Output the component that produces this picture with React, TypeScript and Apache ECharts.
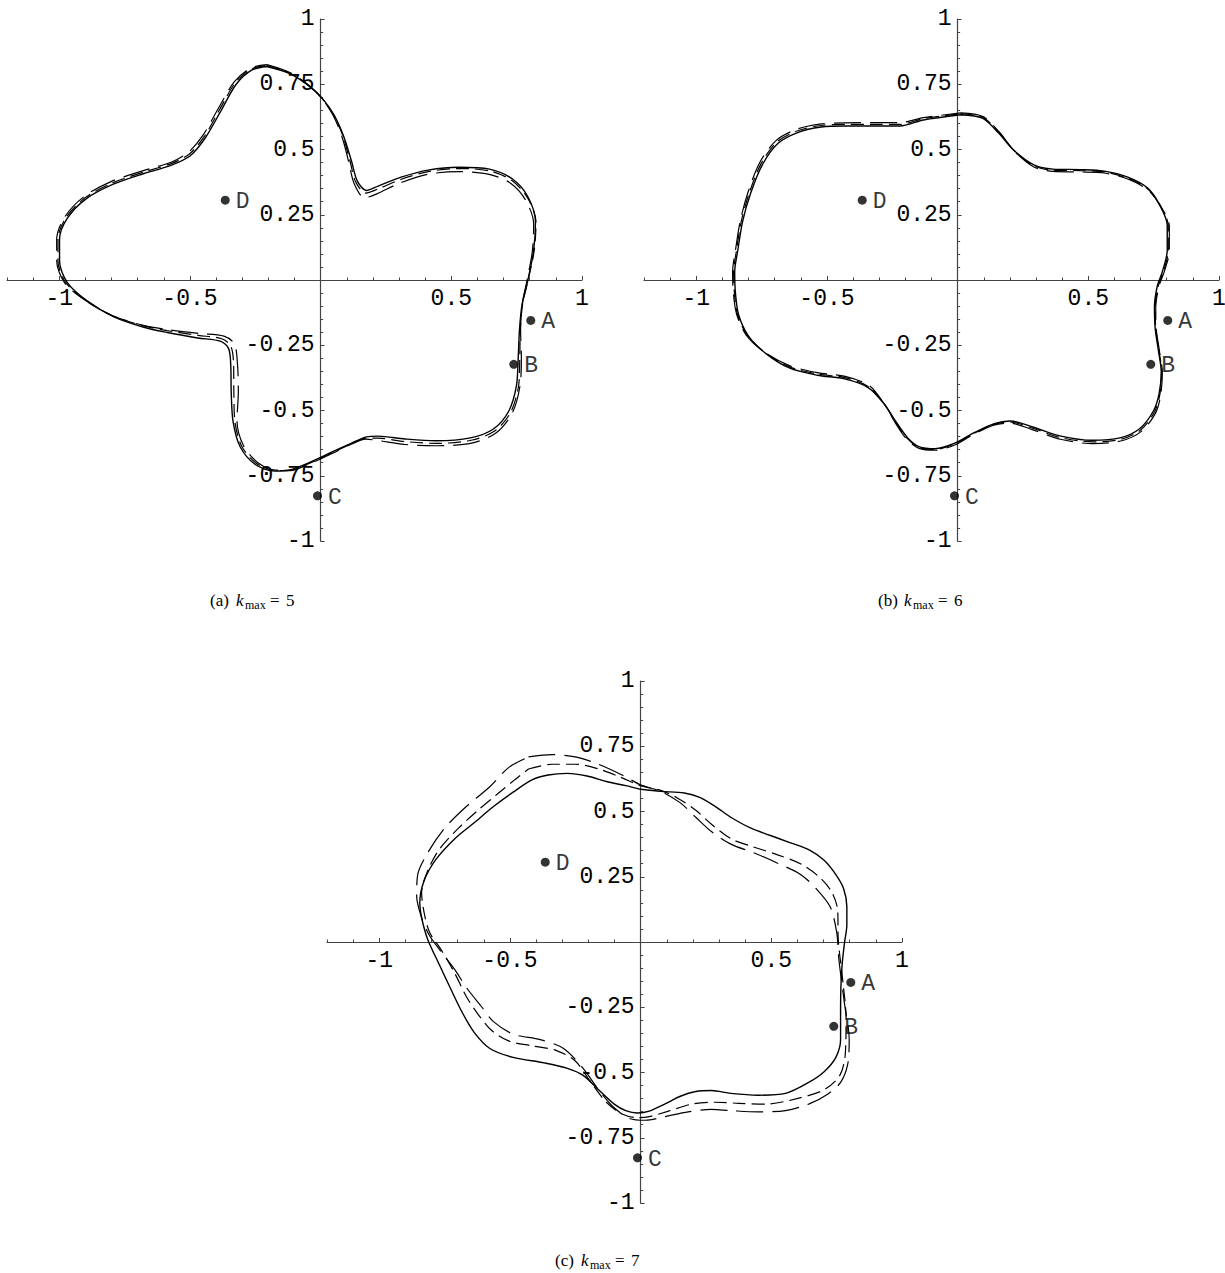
import React, { useEffect, useRef } from "react";
import * as echarts from "echarts";

// ---- axis ticks ----
const xMajorTicks = [-1, -0.5, 0.5, 1];
const xMinorTicks = [
  -1.2, -1.1, -1, -0.9, -0.8, -0.7, -0.6, -0.5, -0.4, -0.3, -0.2, -0.1,
  0.1, 0.2, 0.3, 0.4, 0.5, 0.6, 0.7, 0.8, 0.9, 1,
];
const yMajorTicks = [-1, -0.75, -0.5, -0.25, 0.25, 0.5, 0.75, 1];
const yMinorTicks = [
  -1, -0.95, -0.9, -0.85, -0.8, -0.75, -0.7, -0.65, -0.6, -0.55, -0.5, -0.45,
  -0.4, -0.35, -0.3, -0.25, -0.2, -0.15, -0.1, -0.05, 0.05, 0.1, 0.15, 0.2,
  0.25, 0.3, 0.35, 0.4, 0.45, 0.5, 0.55, 0.6, 0.65, 0.7, 0.75, 0.8, 0.85, 0.9,
  0.95, 1,
];
const X_MIN = -1.2;
const X_MAX = 1;
const Y_MIN = -1;
const Y_MAX = 1;

// ---- reference points ----
const pointNames = ["A", "B", "C", "D"];
const pointX = [0.804, 0.739, -0.012, -0.365];
const pointY = [-0.155, -0.323, -0.827, 0.306];

// ---- captions ----
const panelTags = ["(a)", "(b)", "(c)"];
const kmaxValues = ["5", "6", "7"];

// ---- reconstructed boundaries, k_max = 5 ----
const k5Solid = [
  [-0.206, 0.818], [-0.118, 0.791], [-0.044, 0.743], [0.007, 0.695], [0.051, 0.633],
  [0.088, 0.551], [0.118, 0.456], [0.14, 0.38], [0.176, 0.343], [0.22, 0.36],
  [0.308, 0.394], [0.411, 0.421], [0.529, 0.432], [0.646, 0.425], [0.734, 0.387],
  [0.793, 0.319], [0.822, 0.223], [0.815, 0.114], [0.793, 0.0], [0.771, -0.092],
  [0.761, -0.187], [0.756, -0.297], [0.749, -0.406], [0.72, -0.502], [0.661, -0.571],
  [0.573, -0.605], [0.441, -0.616], [0.323, -0.609], [0.22, -0.598], [0.176, -0.601],
  [0.118, -0.625], [0.044, -0.659], [-0.044, -0.7], [-0.118, -0.728], [-0.176, -0.732],
  [-0.25, -0.707], [-0.308, -0.639], [-0.335, -0.543], [-0.342, -0.434], [-0.344, -0.324],
  [-0.352, -0.263], [-0.382, -0.235], [-0.47, -0.222], [-0.587, -0.201], [-0.676, -0.181],
  [-0.793, -0.14], [-0.896, -0.078], [-0.969, -0.01], [-0.999, 0.073], [-0.999, 0.155],
  [-0.969, 0.237], [-0.896, 0.312], [-0.793, 0.367], [-0.676, 0.408], [-0.573, 0.439],
  [-0.499, 0.476], [-0.441, 0.545], [-0.382, 0.647], [-0.323, 0.75], [-0.264, 0.804],
];
const k5Dash = [
  [-0.206, 0.822], [-0.118, 0.793], [-0.044, 0.744], [0.006, 0.695], [0.05, 0.632],
  [0.086, 0.55], [0.113, 0.453], [0.134, 0.376], [0.172, 0.333], [0.218, 0.348],
  [0.306, 0.385], [0.411, 0.415], [0.529, 0.427], [0.646, 0.418], [0.732, 0.381],
  [0.792, 0.314], [0.824, 0.22], [0.817, 0.112], [0.794, 0.0], [0.773, -0.092],
  [0.764, -0.189], [0.762, -0.298], [0.757, -0.408], [0.727, -0.507], [0.667, -0.578],
  [0.576, -0.614], [0.44, -0.626], [0.322, -0.619], [0.219, -0.606], [0.174, -0.606],
  [0.116, -0.628], [0.044, -0.662], [-0.044, -0.703], [-0.117, -0.729], [-0.174, -0.728],
  [-0.245, -0.703], [-0.302, -0.637], [-0.328, -0.542], [-0.332, -0.433], [-0.333, -0.325],
  [-0.343, -0.255], [-0.376, -0.226], [-0.468, -0.212], [-0.587, -0.194], [-0.676, -0.176],
  [-0.797, -0.137], [-0.901, -0.077], [-0.975, -0.01], [-1.005, 0.073], [-1.005, 0.155],
  [-0.975, 0.238], [-0.9, 0.316], [-0.796, 0.372], [-0.676, 0.414], [-0.572, 0.446],
  [-0.502, 0.483], [-0.445, 0.55], [-0.386, 0.654], [-0.327, 0.755], [-0.266, 0.808],
];
const k5LongDash = [
  [-0.206, 0.825], [-0.118, 0.795], [-0.044, 0.745], [0.005, 0.695], [0.048, 0.63],
  [0.082, 0.548], [0.108, 0.45], [0.128, 0.37], [0.168, 0.315], [0.215, 0.33],
  [0.3, 0.37], [0.41, 0.405], [0.53, 0.415], [0.645, 0.405], [0.728, 0.37],
  [0.785, 0.305], [0.815, 0.215], [0.81, 0.11], [0.79, 0.0], [0.772, -0.09],
  [0.765, -0.19], [0.768, -0.3], [0.762, -0.41], [0.733, -0.51], [0.672, -0.585],
  [0.578, -0.625], [0.44, -0.635], [0.32, -0.63], [0.22, -0.615], [0.172, -0.61],
  [0.115, -0.63], [0.044, -0.665], [-0.044, -0.705], [-0.117, -0.73], [-0.172, -0.73],
  [-0.24, -0.7], [-0.295, -0.635], [-0.32, -0.54], [-0.315, -0.43], [-0.318, -0.325],
  [-0.33, -0.245], [-0.37, -0.215], [-0.465, -0.205], [-0.585, -0.19], [-0.675, -0.175],
  [-0.8, -0.135], [-0.905, -0.075], [-0.98, -0.01], [-1.01, 0.075], [-1.01, 0.155],
  [-0.98, 0.24], [-0.905, 0.32], [-0.8, 0.378], [-0.675, 0.42], [-0.57, 0.452],
  [-0.505, 0.49], [-0.45, 0.555], [-0.39, 0.66], [-0.33, 0.76], [-0.268, 0.812],
];

// ---- reconstructed boundaries, k_max = 6 ----
const k6Solid = [
  [0.012, 0.633], [0.095, 0.62], [0.155, 0.565], [0.215, 0.497], [0.29, 0.442],
  [0.365, 0.425], [0.471, 0.423], [0.561, 0.417], [0.651, 0.394], [0.726, 0.353],
  [0.771, 0.291], [0.802, 0.209], [0.802, 0.114], [0.783, 0.031], [0.764, -0.023],
  [0.753, -0.105], [0.756, -0.187], [0.768, -0.269], [0.779, -0.352], [0.771, -0.434],
  [0.749, -0.502], [0.696, -0.57], [0.621, -0.605], [0.516, -0.614], [0.395, -0.598],
  [0.29, -0.564], [0.2, -0.54], [0.14, -0.55], [0.065, -0.584], [-0.011, -0.625],
  [-0.086, -0.646], [-0.146, -0.639], [-0.191, -0.605], [-0.236, -0.543], [-0.281, -0.475],
  [-0.341, -0.413], [-0.432, -0.379], [-0.537, -0.365], [-0.642, -0.338], [-0.732, -0.283],
  [-0.8, -0.215], [-0.838, -0.133], [-0.85, -0.051], [-0.853, 0.031], [-0.841, 0.114],
  [-0.823, 0.223], [-0.792, 0.332], [-0.747, 0.442], [-0.687, 0.524], [-0.612, 0.565],
  [-0.522, 0.586], [-0.432, 0.59], [-0.311, 0.59], [-0.221, 0.59], [-0.131, 0.613],
];
const k6Dash = [
  [0.012, 0.637], [0.096, 0.623], [0.158, 0.566], [0.217, 0.495], [0.29, 0.438],
  [0.365, 0.42], [0.471, 0.419], [0.561, 0.414], [0.651, 0.39], [0.727, 0.349],
  [0.774, 0.288], [0.806, 0.207], [0.806, 0.113], [0.787, 0.031], [0.767, -0.024],
  [0.756, -0.106], [0.758, -0.188], [0.77, -0.27], [0.781, -0.353], [0.774, -0.437],
  [0.753, -0.506], [0.7, -0.575], [0.622, -0.611], [0.516, -0.62], [0.394, -0.604],
  [0.289, -0.569], [0.199, -0.544], [0.139, -0.553], [0.064, -0.587], [-0.011, -0.628],
  [-0.086, -0.649], [-0.147, -0.642], [-0.193, -0.607], [-0.238, -0.544], [-0.282, -0.473],
  [-0.34, -0.409], [-0.431, -0.374], [-0.537, -0.36], [-0.643, -0.333], [-0.735, -0.28],
  [-0.804, -0.213], [-0.842, -0.133], [-0.854, -0.051], [-0.857, 0.031], [-0.846, 0.114],
  [-0.828, 0.224], [-0.797, 0.334], [-0.752, 0.446], [-0.691, 0.529], [-0.615, 0.571],
  [-0.522, 0.592], [-0.432, 0.596], [-0.311, 0.596], [-0.221, 0.596], [-0.131, 0.618],
];
const k6LongDash = [
  [0.012, 0.64], [0.097, 0.626], [0.16, 0.566], [0.218, 0.493], [0.29, 0.434],
  [0.365, 0.416], [0.471, 0.414], [0.561, 0.41], [0.651, 0.387], [0.728, 0.345],
  [0.776, 0.284], [0.81, 0.205], [0.81, 0.112], [0.79, 0.03], [0.77, -0.025],
  [0.758, -0.107], [0.76, -0.189], [0.772, -0.271], [0.783, -0.355], [0.777, -0.44],
  [0.757, -0.51], [0.703, -0.58], [0.624, -0.617], [0.516, -0.627], [0.393, -0.61],
  [0.288, -0.574], [0.198, -0.548], [0.138, -0.556], [0.063, -0.59], [-0.011, -0.632],
  [-0.086, -0.652], [-0.148, -0.645], [-0.196, -0.609], [-0.24, -0.545], [-0.283, -0.472],
  [-0.338, -0.405], [-0.43, -0.369], [-0.537, -0.355], [-0.644, -0.328], [-0.738, -0.277],
  [-0.808, -0.212], [-0.845, -0.133], [-0.858, -0.051], [-0.861, 0.031], [-0.85, 0.114],
  [-0.832, 0.225], [-0.802, 0.336], [-0.757, 0.45], [-0.695, 0.534], [-0.617, 0.577],
  [-0.522, 0.598], [-0.432, 0.602], [-0.311, 0.603], [-0.221, 0.603], [-0.131, 0.622],
];

// ---- reconstructed boundaries, k_max = 7 ----
const k7Solid = [
  [0, 0.585], [0.077, 0.577], [0.167, 0.571], [0.226, 0.554], [0.286, 0.519],
  [0.345, 0.478], [0.42, 0.437], [0.494, 0.409], [0.568, 0.382], [0.643, 0.354],
  [0.702, 0.313], [0.747, 0.258], [0.777, 0.203], [0.789, 0.135], [0.789, 0.066],
  [0.78, -0.003], [0.771, -0.085], [0.766, -0.181], [0.765, -0.291], [0.765, -0.374],
  [0.747, -0.442], [0.702, -0.497], [0.643, -0.538], [0.554, -0.58], [0.449, -0.587],
  [0.345, -0.58], [0.271, -0.569], [0.211, -0.573], [0.152, -0.591], [0.092, -0.621],
  [0.033, -0.648], [-0.012, -0.655], [-0.057, -0.646], [-0.101, -0.621], [-0.161, -0.566],
  [-0.22, -0.511], [-0.28, -0.484], [-0.369, -0.463], [-0.488, -0.442], [-0.577, -0.408],
  [-0.637, -0.346], [-0.682, -0.271], [-0.726, -0.181], [-0.771, -0.085], [-0.815, 0.011],
  [-0.838, 0.093], [-0.845, 0.148], [-0.83, 0.231], [-0.786, 0.313], [-0.711, 0.396],
  [-0.637, 0.457], [-0.563, 0.519], [-0.488, 0.574], [-0.414, 0.622], [-0.354, 0.64],
  [-0.28, 0.646], [-0.205, 0.636], [-0.131, 0.615], [-0.057, 0.599],
];
const k7Dash = [
  [-0.429, 0.663], [-0.339, 0.681], [-0.25, 0.681], [-0.161, 0.663], [-0.071, 0.629],
  [0, 0.599], [0.077, 0.581], [0.137, 0.554], [0.211, 0.505], [0.271, 0.451],
  [0.345, 0.396], [0.42, 0.368], [0.524, 0.334], [0.613, 0.299], [0.688, 0.245],
  [0.732, 0.19], [0.754, 0.121], [0.756, 0.011], [0.774, -0.154], [0.786, -0.291],
  [0.783, -0.429], [0.762, -0.511], [0.702, -0.566], [0.598, -0.6], [0.479, -0.621],
  [0.375, -0.618], [0.286, -0.614], [0.196, -0.621], [0.107, -0.648], [0.033, -0.669],
  [-0.012, -0.673], [-0.071, -0.659], [-0.131, -0.614], [-0.19, -0.538], [-0.25, -0.456],
  [-0.324, -0.415], [-0.414, -0.398], [-0.503, -0.38], [-0.57, -0.339], [-0.622, -0.277],
  [-0.667, -0.209], [-0.711, -0.12], [-0.763, -0.03], [-0.808, 0.038], [-0.83, 0.121],
  [-0.838, 0.19], [-0.815, 0.272], [-0.771, 0.354], [-0.696, 0.437], [-0.622, 0.505],
  [-0.548, 0.567], [-0.481, 0.622],
];
const k7LongDash = [
  [-0.429, 0.709], [-0.339, 0.718], [-0.25, 0.709], [-0.161, 0.681], [-0.071, 0.64],
  [0, 0.602], [0.077, 0.577], [0.152, 0.533], [0.211, 0.478], [0.271, 0.423],
  [0.345, 0.375], [0.435, 0.341], [0.524, 0.302], [0.613, 0.258], [0.673, 0.203],
  [0.725, 0.135], [0.75, 0.038], [0.759, -0.071], [0.78, -0.236], [0.798, -0.374],
  [0.792, -0.47], [0.765, -0.538], [0.717, -0.582], [0.643, -0.621], [0.554, -0.646],
  [0.449, -0.651], [0.345, -0.646], [0.271, -0.641], [0.182, -0.651], [0.092, -0.669],
  [0.018, -0.683], [-0.042, -0.676], [-0.101, -0.635], [-0.161, -0.566], [-0.22, -0.484],
  [-0.295, -0.408], [-0.384, -0.374], [-0.488, -0.353], [-0.563, -0.305], [-0.607, -0.25],
  [-0.667, -0.174], [-0.711, -0.106], [-0.763, -0.037], [-0.808, 0.025], [-0.838, 0.093],
  [-0.857, 0.176], [-0.853, 0.258], [-0.815, 0.341], [-0.749, 0.437], [-0.667, 0.519],
  [-0.577, 0.595], [-0.503, 0.67],
];

const panelCurves = [
  [k5Solid, k5Dash, k5LongDash],
  [k6Solid, k6Dash, k6LongDash],
  [k7Solid, k7Dash, k7LongDash],
];

// ---- layout ----
const PANEL_W = 575;
const PANEL_H = 522;
const panelLayout = [
  { left: 7, top: 19, capX: 210, capY: 600 },
  { left: 644, top: 19, capX: 878, capY: 600 },
  { left: 327, top: 681, capX: 555, capY: 1260 },
];

// axes cross at the origin: shift each axis from the grid edge to the zero line
const X_AXIS_SHIFT = -PANEL_H * ((0 - Y_MIN) / (Y_MAX - Y_MIN));
const Y_AXIS_SHIFT = -PANEL_W * ((0 - X_MIN) / (X_MAX - X_MIN));

const MONO = "'Liberation Mono', 'Courier New', monospace";
const SERIF = "'Liberation Serif', 'DejaVu Serif', serif";
const AXIS_COLOR = "#444";

const fmt = (v: number) => String(Math.round(v * 100) / 100);

function buildOption() {
  const grid: any[] = [];
  const xAxis: any[] = [];
  const yAxis: any[] = [];
  const series: any[] = [];
  const graphic: any[] = [];

  const lineStyles = [
    { type: "solid", width: 1.4, color: "#000" },
    { type: [13, 6], width: 1.2, color: "#000" },
    { type: [27, 9], width: 1.2, color: "#000" },
  ];

  const tickText = { fontFamily: MONO, fontSize: 23, color: "#000" };

  panelLayout.forEach((p, i) => {
    grid.push({
      left: p.left,
      top: p.top,
      width: PANEL_W,
      height: PANEL_H,
      outerBoundsMode: "none",
      containLabel: false,
    });
    const major = 2 * i;

    // x axes: labelled major ticks, then minor ticks
    xAxis.push({
      type: "value",
      gridIndex: i,
      min: X_MIN,
      max: X_MAX,
      position: "bottom",
      offset: X_AXIS_SHIFT,
      axisLine: { onZero: false, lineStyle: { color: AXIS_COLOR, width: 1.2 } },
      axisTick: { inside: true, length: 4, customValues: xMajorTicks, lineStyle: { color: AXIS_COLOR } },
      axisLabel: { customValues: xMajorTicks, formatter: fmt, margin: 7, ...tickText },
      splitLine: { show: false },
    });
    xAxis.push({
      type: "value",
      gridIndex: i,
      min: X_MIN,
      max: X_MAX,
      position: "bottom",
      offset: X_AXIS_SHIFT,
      axisLine: { show: false, onZero: false },
      axisTick: { inside: true, length: 2.5, customValues: xMinorTicks, lineStyle: { color: AXIS_COLOR } },
      axisLabel: { show: false },
      splitLine: { show: false },
    });

    // y axes
    yAxis.push({
      type: "value",
      gridIndex: i,
      min: Y_MIN,
      max: Y_MAX,
      position: "left",
      offset: Y_AXIS_SHIFT,
      axisLine: { onZero: false, lineStyle: { color: AXIS_COLOR, width: 1.2 } },
      axisTick: { inside: true, length: 4, customValues: yMajorTicks, lineStyle: { color: AXIS_COLOR } },
      axisLabel: { customValues: yMajorTicks, formatter: fmt, margin: 6, ...tickText },
      splitLine: { show: false },
    });
    yAxis.push({
      type: "value",
      gridIndex: i,
      min: Y_MIN,
      max: Y_MAX,
      position: "left",
      offset: Y_AXIS_SHIFT,
      axisLine: { show: false, onZero: false },
      axisTick: { inside: true, length: 2.5, customValues: yMinorTicks, lineStyle: { color: AXIS_COLOR } },
      axisLabel: { show: false },
      splitLine: { show: false },
    });

    // boundary curves (long dash, dash, then solid on top)
    [2, 1, 0].forEach((c) => {
      const pts = panelCurves[i][c];
      series.push({
        type: "line",
        xAxisIndex: major,
        yAxisIndex: major,
        data: [...pts, pts[0]],
        smooth: 0.3,
        symbol: "none",
        lineStyle: lineStyles[c],
        z: 3 + (2 - c),
        silent: true,
      });
    });

    // labelled points
    series.push({
      type: "scatter",
      xAxisIndex: major,
      yAxisIndex: major,
      symbolSize: 9,
      itemStyle: { color: "#000" },
      z: 10,
      data: pointNames.map((n, k) => ({ name: n, value: [pointX[k], pointY[k]] })),
      label: {
        show: true,
        position: "right",
        distance: 6,
        offset: [0, 2],
        formatter: "{b}",
        ...tickText,
      },
    });

    // caption: (x) k_max = n
    const cx = p.capX;
    const cy = p.capY;
    const base = { fill: "#000", verticalAlign: "middle" };
    graphic.push(
      { type: "text", x: cx, y: cy, style: { ...base, text: panelTags[i], font: `17px ${SERIF}` } },
      { type: "text", x: cx + 26, y: cy, style: { ...base, text: "k", font: `italic 17px ${SERIF}` } },
      { type: "text", x: cx + 35, y: cy + 5, style: { ...base, text: "max", font: `12px ${SERIF}` } },
      { type: "text", x: cx + 60, y: cy, style: { ...base, text: "=", font: `17px ${SERIF}` } },
      { type: "text", x: cx + 76, y: cy, style: { ...base, text: kmaxValues[i], font: `17px ${SERIF}` } }
    );
  });

  return {
    animation: false,
    backgroundColor: "#fff",
    grid,
    xAxis,
    yAxis,
    series,
    graphic,
  };
}

export default function App() {
  const ref = useRef<HTMLDivElement>(null);
  useEffect(() => {
    if (!ref.current) return;
    const chart = echarts.init(ref.current, null, { renderer: "svg" });
    chart.setOption(buildOption() as any);
    return () => chart.dispose();
  }, []);
  return (
    <div
      ref={ref}
      style={{ position: "absolute", left: 0, top: 0, width: 1225, height: 1273, background: "#fff" }}
    />
  );
}
